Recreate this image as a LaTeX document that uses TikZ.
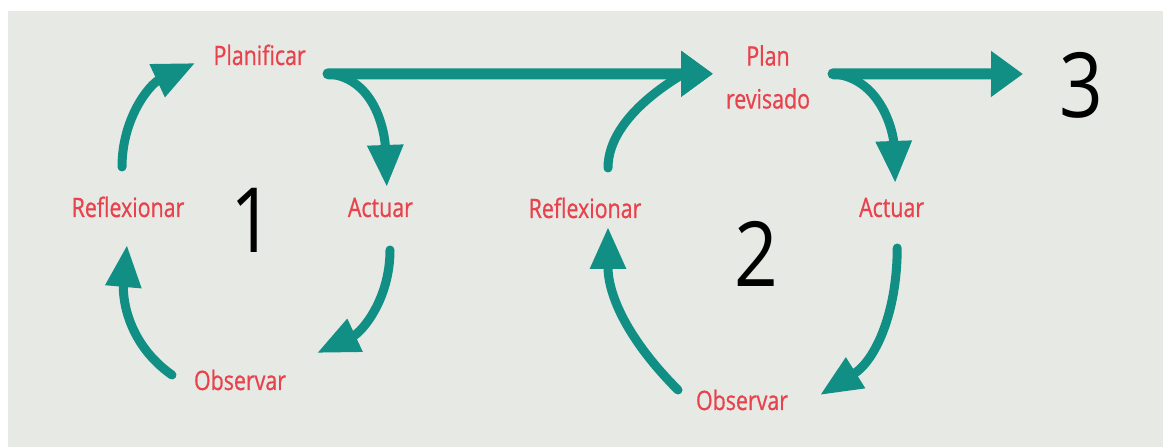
\documentclass[tikz,border=0pt]{standalone}
\usepackage{fontspec}
\usepackage{tikz}
\usetikzlibrary{arrows.meta}
\newfontfamily\etiq[FakeStretch=0.8,FakeBold=0.7]{Open Sans}
\newfontfamily\cifra[FakeStretch=0.85]{Open Sans}
\definecolor{flecha}{RGB}{18,143,133}
\definecolor{rojoetiq}{RGB}{232,66,76}
\definecolor{fondo}{RGB}{230,233,228}
\tikzset{
	paso/.style={text=rojoetiq,font=\etiq\fontsize{19}{30.6}\selectfont,inner sep=0pt,anchor=base},
	numero/.style={font=\cifra\fontsize{64}{64}\selectfont,inner sep=0pt,anchor=base},
	curva/.style={draw=flecha,line width=0.225cm,line cap=round,-{Triangle[length=1.05cm,width=0.85cm]}},
	recta/.style={draw=flecha,line width=0.275cm,line cap=round,-{Triangle[length=0.8cm,width=1.1cm]}}
}
\begin{document}
\begin{tikzpicture}
			\useasboundingbox (0,0) rectangle (29.075,11.175);
			\fill[fondo] (0.2,0) rectangle (29.075,10.9);
			\node[paso] (plan1) at (6.49,9.55) {Planificar};
			\node[paso] (refl1) at (3.2,5.75) {Reflexionar};
			\node[paso] (act1) at (9.51,5.75) {Actuar};
			\node[paso] (obs1) at (6.0,1.425) {Observar};
			\node[numero] (num1) at (6.3,4.85) {1};
			\node[paso,anchor=center,align=center] (plan2) at (19.2,9.25) {Plan\\revisado};
			\node[paso] (refl2) at (14.625,5.725) {Reflexionar};
			\node[paso] (act2) at (22.29,5.75) {Actuar};
			\node[paso] (obs2) at (18.55,0.925) {Observar};
			\node[numero] (num2) at (18.9,4.0) {2};
			\node[numero] (num3) at (27.025,8.225) {3};
			\draw[curva] ([shift={(-0.15,1.25)}]refl1.base) to[out=90,in=205] ([shift={(-1.61,0.05)}]plan1.base);
			\draw[curva] ([shift={(1.71,-0.22)}]plan1.base) to[out=-5,in=92] ([shift={(0.16,0.75)}]act1.base);
			\draw[curva] ([shift={(0.24,-0.825)}]act1.base) to[out=-90,in=25] ([shift={(1.925,0.925)}]obs1.base);
			\draw[curva] ([shift={(-1.7,0.375)}]obs1.base) to[out=145,in=-95] ([shift={(-0.025,-0.7)}]refl1.base);
			\draw[recta] ([shift={(1.71,-0.22)}]plan1.base) -- ([shift={(-1.375,0.08)}]plan2.center);
			\draw[recta,line width=0.225cm] ([shift={(0.575,1.25)}]refl2.base) to[out=90,in=180,in looseness=0.5] ([shift={(-1.375,0.08)}]plan2.center);
			\draw[curva] ([shift={(1.625,0.08)}]plan2.center) to[out=-5,in=92] ([shift={(0.09,0.85)}]act2.base);
			\draw[recta] ([shift={(1.625,0.08)}]plan2.center) -- ([shift={(-1.45,1.1)}]num3.base);
			\draw[curva] ([shift={(0.14,-0.775)}]act2.base) to[out=-90,in=32] ([shift={(1.95,0.375)}]obs2.base);
			\draw[curva] ([shift={(-1.6,0.5)}]obs2.base) to[out=135,in=-90] ([shift={(0.575,-0.225)}]refl2.base);
		\end{tikzpicture}
\end{document}
